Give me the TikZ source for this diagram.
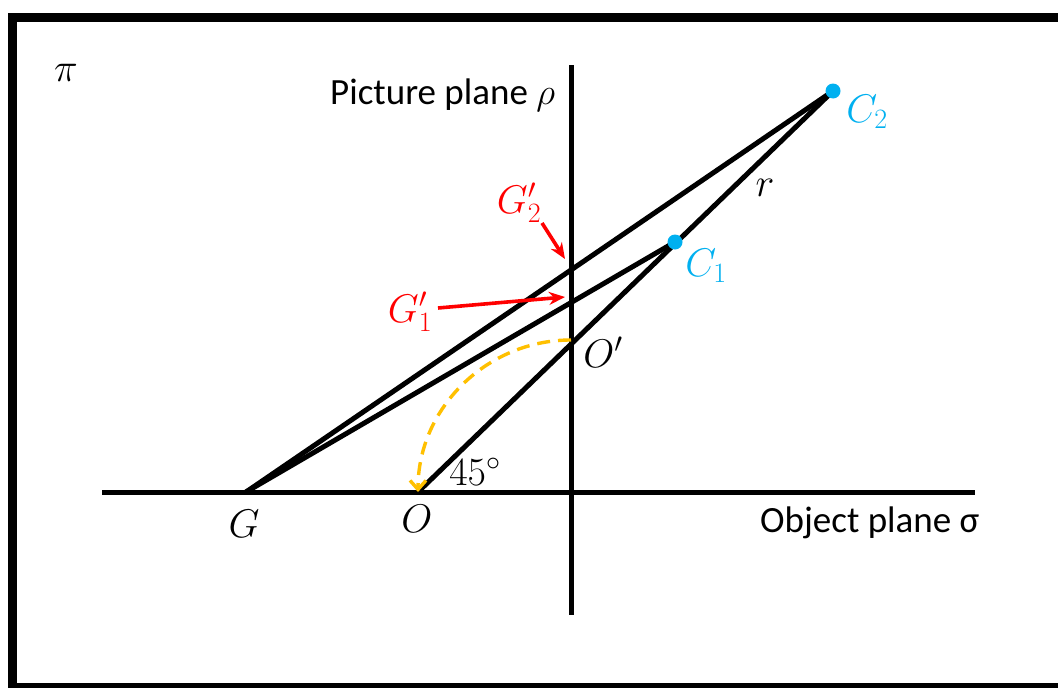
\RequirePackage{fix-cm}
\documentclass[tikz,border=0pt]{standalone}
\usepackage{fontspec}
\setmainfont{Carlito}
\usetikzlibrary{arrows.meta,calc}
\definecolor{cblue}{HTML}{00B0F0}
\definecolor{cred}{HTML}{FF0000}
\definecolor{cgold}{HTML}{FFC000}
\tikzset{
  mainline/.style={line width=5pt},
  redarrow/.style={cred,line width=3.6pt,-{Stealth[length=16pt,width=13pt]}},
  mlabel/.style={inner sep=0pt,font=\fontsize{40}{46}\selectfont},
  tlabel/.style={inner sep=0pt,font=\fontsize{37}{42}\selectfont},
}
\begin{document}
\begin{tikzpicture}[x=1pt,y=-1pt]
\useasboundingbox (0,0) rectangle (1058,688);
\clip (0,0) rectangle (1058,688);
\fill[white] (0,0) rectangle (1058,688);
\draw[line width=9.5pt] (12.5,17.5) rectangle (1075,688);
% key points
\coordinate (G) at (246,492);
\coordinate (O) at (418,492);
\coordinate (Op) at (571,340);
\coordinate (C1) at (675,242);
\coordinate (C2) at (833,91);
\coordinate (hL) at (102,492);
\coordinate (hR) at (975,492);
\coordinate (vT) at (571,65);
\coordinate (vB) at (571,615);
% axes
\draw[mainline] (hL) -- (hR);
\draw[mainline] (vT) -- (vB);
% rays
\draw[mainline,line cap=round] (G) -- (C2);
\draw[mainline,line cap=round] (G) -- (C1);
\draw[mainline,line cap=round] (O) -- (C2);
% orange arc
\draw[cgold,line width=3.4pt,dash pattern=on 13pt off 8pt,-{Straight Barb[length=9pt,width=16pt]}]
  (Op) .. controls (487,340) and (418,408) .. (O);
% blue dots
\fill[cblue] (C1) circle[radius=7.5pt];
\fill[cblue] (C2) circle[radius=7.5pt];
% red arrows
\coordinate (a2s) at (542,223);
\coordinate (a2e) at (565,259);
\coordinate (a1s) at (438,308);
\coordinate (a1e) at (565,297);
\draw[redarrow] (a2s) -- (a2e);
\draw[redarrow] (a1s) -- (a1e);
% labels
\node[mlabel] (pi) at (66,73) {$\pi$};
\node[tlabel,anchor=base west] (pp) at (330,104) {Picture plane $\rho$};
\node[tlabel,anchor=base west] (op) at (760,532) {Object plane σ};
\node[mlabel,cred] (lG2) at (519,203) {$G_2'$};
\node[mlabel,cred] (lG1) at (410,312) {$G_1'$};
\node[mlabel] (lOp) at (603,352) {$O'$};
\node[mlabel,cblue] (lC1) at (706,266) {$C_1$};
\node[mlabel,cblue] (lC2) at (867,112) {$C_2$};
\node[mlabel] (lr) at (765,188) {$r$};
\node[mlabel] (l45) at (475,472) {$45^\circ$};
\node[mlabel] (lG) at (244,524) {$G$};
\node[mlabel] (lO) at (417,519) {$O$};
\end{tikzpicture}
\end{document}
